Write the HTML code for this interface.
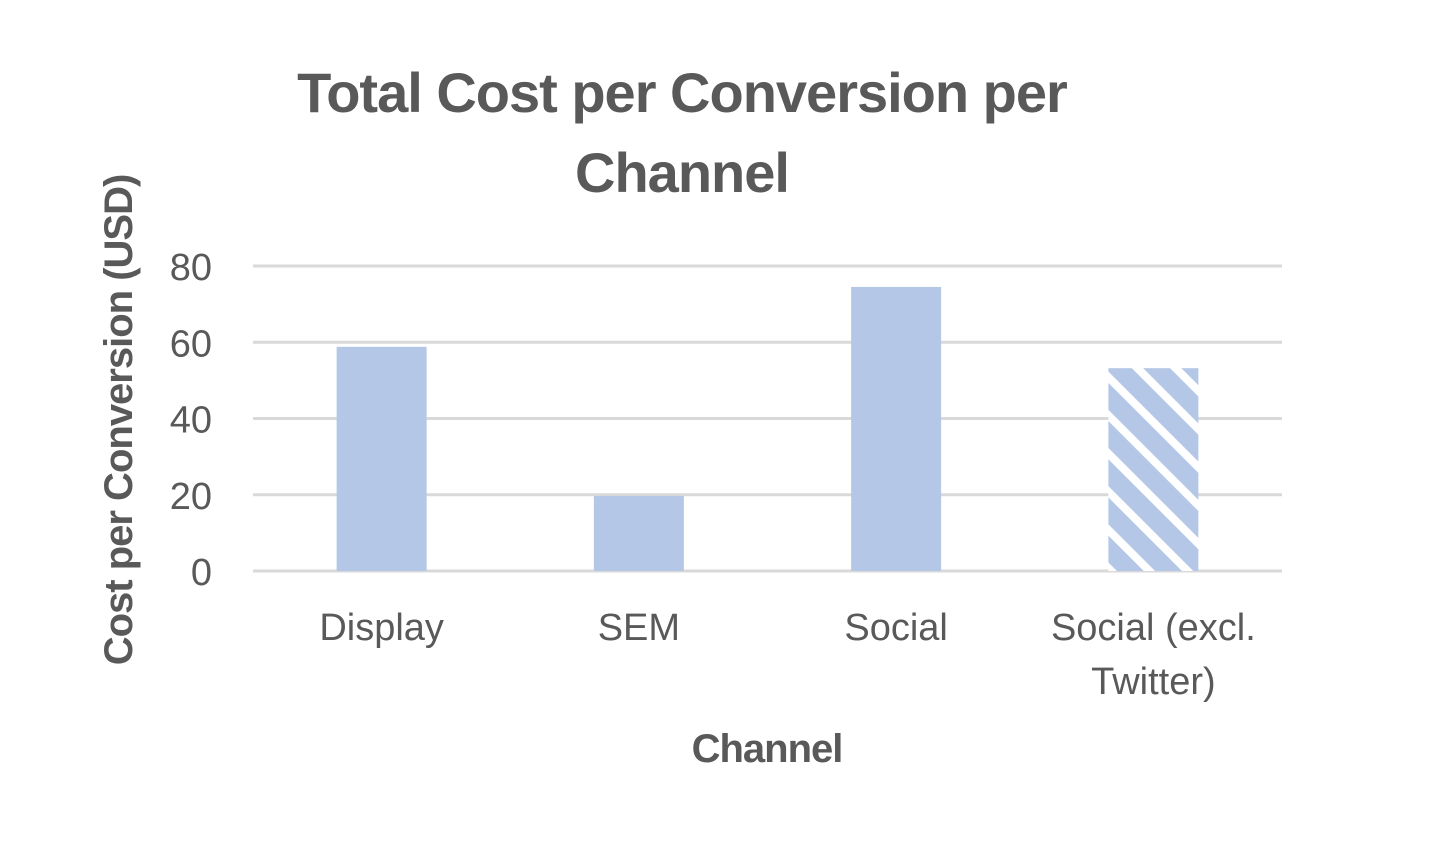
<!DOCTYPE html>
<html><head><meta charset="utf-8"><style>
body{margin:0;background:#fff;}
svg text{font-family:"Liberation Sans",sans-serif;}
</style></head><body>
<svg width="1456" height="836" viewBox="0 0 1456 836">
<defs>
<pattern id="hatch" width="27" height="27" patternUnits="userSpaceOnUse" patternTransform="rotate(-45)">
<rect width="27" height="27" fill="#b4c7e7"/>
<rect x="0" y="0" width="8" height="27" fill="#fff"/>
</pattern>
</defs>
<text x="682" y="112" text-anchor="middle" font-size="56" font-weight="bold" fill="#595959" letter-spacing="-1">Total Cost per Conversion per</text>
<text x="682" y="192" text-anchor="middle" font-size="56" font-weight="bold" fill="#595959" letter-spacing="-1">Channel</text>
<g id="grid"></g>
<g id="bars"></g>
<g id="labels"></g>
<text transform="translate(132,420) rotate(-90)" text-anchor="middle" font-size="40" font-weight="bold" fill="#595959" letter-spacing="-1">Cost per Conversion (USD)</text>
<text x="767" y="762" text-anchor="middle" font-size="40" font-weight="bold" fill="#595959" letter-spacing="-1">Channel</text>
</svg>
<script>
const categories=["Display","SEM","Social","Social (excl.|Twitter)"];
const values=[58.8,19.7,74.5,53.2];
const hatched=[false,false,false,true];
const ticks=[0,20,40,60,80];
const NS="http://www.w3.org/2000/svg";
const x0=253,x1=1282,y0=571,yTop=266,yMax=80;
const yS=v=>y0-(v/yMax)*(y0-yTop);
const cw=(x1-x0)/categories.length;
const xC=i=>x0+cw*(i+0.5);
const bw=90;
function mk(t,a){const e=document.createElementNS(NS,t);for(const k in a)e.setAttribute(k,a[k]);return e;}
const grid=document.getElementById('grid'),bars=document.getElementById('bars'),labels=document.getElementById('labels');
ticks.forEach(t=>{
 const l=mk('line',{x1:x0,x2:x1,y1:yS(t),y2:yS(t),stroke:'#d9d9d9','stroke-width':3});
 
 
 grid.appendChild(l);
 const tx=mk('text',{x:212,y:yS(t)+14,'text-anchor':'end','font-size':38,fill:'#595959'});
 tx.textContent=t;
 
 
 labels.appendChild(tx);
});
values.forEach((v,i)=>{
 const r=mk('rect',{x:xC(i)-bw/2,y:yS(v),width:bw,height:y0-yS(v),fill:hatched[i]?'url(#hatch)':'#b4c7e7'});
 
 
 bars.appendChild(r);
 categories[i].split('|').forEach((s,j)=>{
  const tx=mk('text',{x:xC(i),y:640+j*54,'text-anchor':'middle','font-size':38,fill:'#595959'});
  tx.textContent=s;
  
  
  labels.appendChild(tx);
 });
});
</script>
</body></html>
